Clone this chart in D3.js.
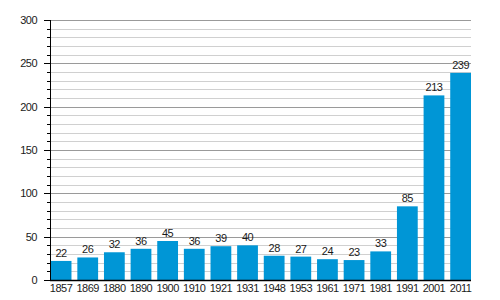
<!DOCTYPE html>
<html>
<head>
  <meta charset="utf-8">
  <script src="https://d3js.org/d3.v7.min.js"></script>
  <style>
    body { margin: 0; background: #fff; }
    text { font-family: "Liberation Sans", Arial, sans-serif; fill: #1a1a1a; letter-spacing: -0.5px; }
  </style>
</head>
<body>
<script>
  // data
  var years = ["1857", "1869", "1880", "1890", "1900", "1910", "1921", "1931",
               "1948", "1953", "1961", "1971", "1981", "1991", "2001", "2011"];
  var values = [22, 26, 32, 36, 45, 36, 39, 40, 28, 27, 24, 23, 33, 85, 213, 239];
  var yTicks = [0, 50, 100, 150, 200, 250, 300];

  var width = 500, height = 300;
  var plotLeft = 50, plotRight = 471, plotTop = 20, plotBottom = 280;

  var svg = d3.select("body").append("svg")
      .attr("width", width)
      .attr("height", height);

  var x = d3.scaleBand()
      .domain(years)
      .range([plotLeft + 0.7, plotRight])
      .paddingInner(0.22)
      .paddingOuter(0);

  var y = d3.scaleLinear()
      .domain([0, 300])
      .range([plotBottom, plotTop]);

  // gridlines, every 10, darker every 50
  var minor = d3.range(10, 301, 10);
  svg.append("g").selectAll("line")
      .data(minor)
      .enter().append("line")
      .attr("x1", plotLeft)
      .attr("x2", plotRight)
      .attr("y1", function(d) { return Math.round(y(d)) + 0.5; })
      .attr("y2", function(d) { return Math.round(y(d)) + 0.5; })
      .attr("stroke", function(d) { return d % 50 === 0 ? "#9a9a9a" : "#d0d0d0"; })
      .attr("stroke-width", 1);

  // bars
  svg.append("g").selectAll("rect")
      .data(values)
      .enter().append("rect")
      .attr("x", function(d, i) { return x(years[i]); })
      .attr("width", x.bandwidth())
      .attr("y", function(d) { return y(d); })
      .attr("height", function(d) { return plotBottom - y(d); })
      .attr("fill", "#0096d6");

  // value labels
  svg.append("g").selectAll("text")
      .data(values)
      .enter().append("text")
      .attr("x", function(d, i) { return x(years[i]) + x.bandwidth() / 2; })
      .attr("y", function(d) { return y(d) - 4; })
      .attr("text-anchor", "middle")
      .style("font-size", "11px")
      .text(function(d) { return d; });

  // y axis with minor ticks
  var yAxis = svg.append("g");
  yAxis.append("line")
      .attr("x1", plotLeft + 0.5).attr("x2", plotLeft + 0.5)
      .attr("y1", plotTop).attr("y2", plotBottom)
      .attr("stroke", "#000");
  yAxis.selectAll("line.tick")
      .data(d3.range(0, 301, 10))
      .enter().append("line")
      .attr("class", "tick")
      .attr("x1", function(d) { return d % 50 === 0 ? plotLeft - 6 : plotLeft - 3; })
      .attr("x2", plotLeft)
      .attr("y1", function(d) { return Math.round(y(d)) + 0.5; })
      .attr("y2", function(d) { return Math.round(y(d)) + 0.5; })
      .attr("stroke", "#000");
  yAxis.selectAll("text")
      .data(yTicks)
      .enter().append("text")
      .attr("x", plotLeft - 13)
      .attr("y", function(d) { return y(d) + 4; })
      .attr("text-anchor", "end")
      .style("font-size", "11px")
      .text(function(d) { return d; });

  // x axis
  var xAxis = svg.append("g").attr("transform", "translate(0," + plotBottom + ")");
  xAxis.append("line")
      .attr("x1", plotLeft).attr("x2", plotRight)
      .attr("y1", 0.5).attr("y2", 0.5)
      .attr("stroke", "#000").attr("stroke-width", 1.5);
  xAxis.selectAll("text")
      .data(years)
      .enter().append("text")
      .attr("x", function(d) { return x(d) + x.bandwidth() / 2; })
      .attr("y", 12)
      .attr("text-anchor", "middle")
      .style("font-size", "11px")
      .text(function(d) { return d; });
</script>
</body>
</html>
